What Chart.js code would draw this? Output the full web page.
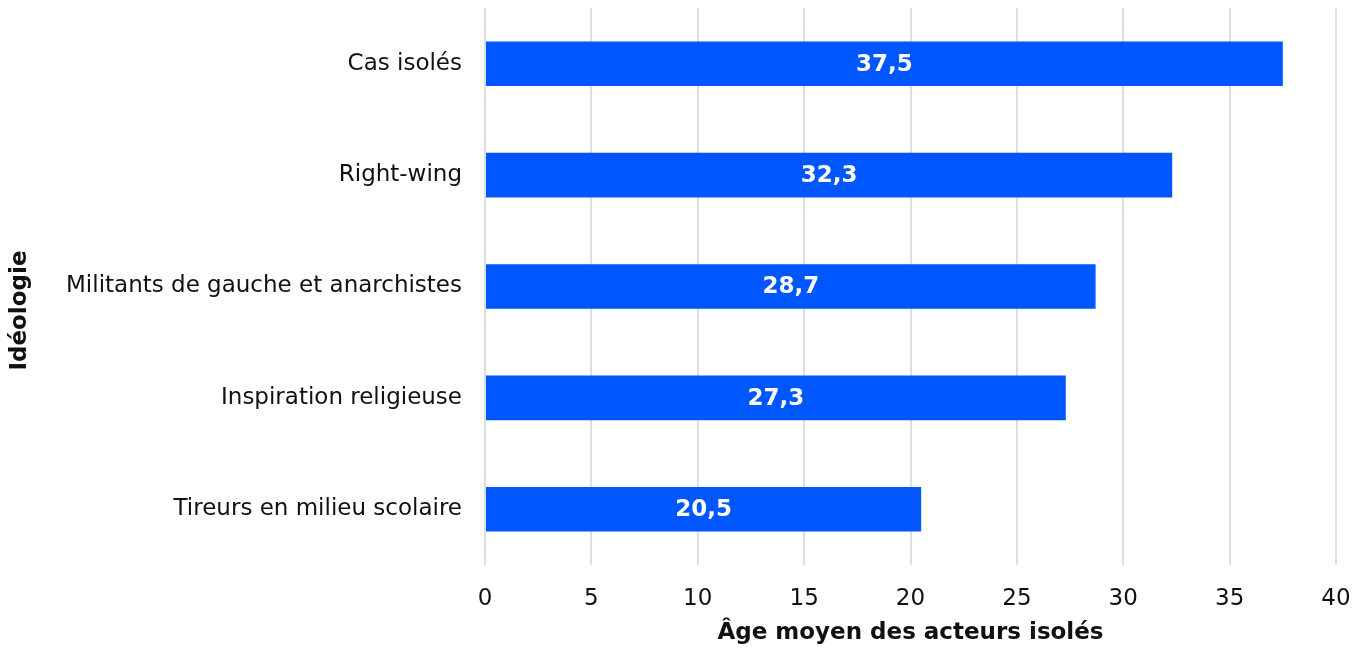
<!DOCTYPE html>
<html>
<head>
<meta charset="utf-8">
<script src="https://cdn.jsdelivr.net/npm/chart.js@4/dist/chart.umd.min.js"></script>
<style>
  html, body { margin: 0; padding: 0; background: #fff; }
  #wrap { width: 1363px; height: 648px; }
</style>
</head>
<body>
<div id="wrap"><canvas id="chart"></canvas></div>
<script>
// data
const categories = ['Cas isolés', 'Right-wing', 'Militants de gauche et anarchistes', 'Inspiration religieuse', 'Tireurs en milieu scolaire'];
const ages = [37.5, 32.3, 28.7, 27.3, 20.5];
const xTicks = [0, 5, 10, 15, 20, 25, 30, 35, 40];

const FONT = "'DejaVu Sans', Verdana, sans-serif";

// white value labels in the middle of each bar (no datalabels plugin offline)
const barLabels = {
  id: 'barLabels',
  afterDatasetsDraw(chart) {
    const ctx = chart.ctx;
    const meta = chart.getDatasetMeta(0);
    ctx.save();
    ctx.font = 'bold 23px ' + FONT;
    ctx.fillStyle = '#ffffff';
    ctx.textAlign = 'center';
    ctx.textBaseline = 'middle';
    meta.data.forEach((bar, i) => {
      const v = chart.data.datasets[0].data[i];
      const x = (bar.x + bar.base) / 2;
      ctx.fillText(v.toFixed(1).replace('.', ','), x, bar.y + 1);
    });
    ctx.restore();
  }
};

new Chart(document.getElementById('chart'), {
  type: 'bar',
  data: {
    labels: categories,
    datasets: [{
      data: ages,
      backgroundColor: '#0057ff',
      borderWidth: 0,
      barPercentage: 0.4,
      categoryPercentage: 1.0
    }]
  },
  options: {
    indexAxis: 'y',
    responsive: true,
    maintainAspectRatio: false,
    animation: false,
    layout: { padding: { top: 8, right: 27, bottom: 0, left: 0 } },
    plugins: {
      legend: { display: false },
      tooltip: { enabled: false }
    },
    scales: {
      x: {
        min: 0,
        max: 40,
        afterBuildTicks: (axis) => { axis.ticks = xTicks.map(v => ({ value: v })); },
        afterFit: (axis) => { axis.height = 83; axis.paddingLeft = 0; axis.paddingRight = 0; },
        grid: { color: '#dedede', lineWidth: 2, drawTicks: false },
        border: { display: false },
        ticks: { color: '#111', font: { family: FONT, size: 23 }, padding: 20 },
        title: {
          display: true,
          text: 'Âge moyen des acteurs isolés',
          color: '#111',
          font: { family: FONT, size: 23, weight: 'bold' },
          padding: { top: 7, bottom: 1 }
        }
      },
      y: {
        afterFit: (axis) => { axis.width = 485; axis.paddingTop = 0; axis.paddingBottom = 0; },
        grid: { display: false, drawTicks: false },
        border: { display: false },
        ticks: { color: '#111', font: { family: FONT, size: 23 }, padding: 23 },
        title: {
          display: true,
          text: 'Idéologie      ',
          color: '#111',
          font: { family: FONT, size: 23, weight: 'bold' },
          padding: { top: 6, bottom: 10 }
        }
      }
    }
  },
  plugins: [barLabels]
});
</script>
</body>
</html>
